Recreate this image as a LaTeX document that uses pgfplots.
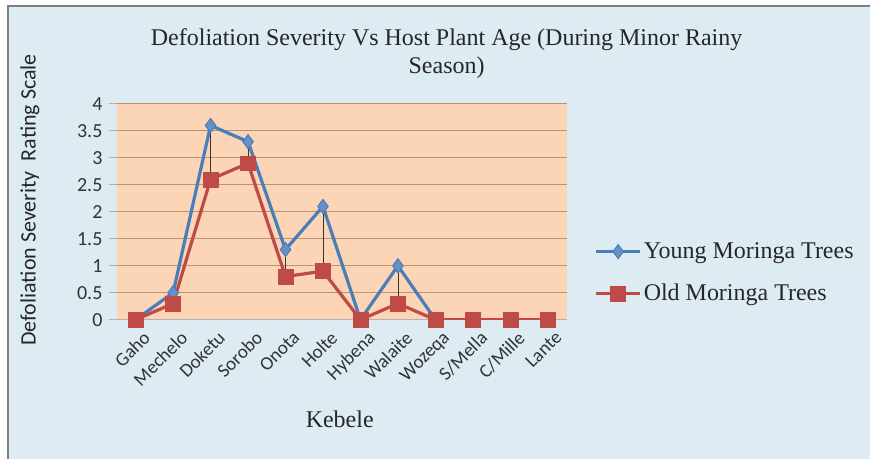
\documentclass[border=0pt]{standalone}
\usepackage{pgfplots}
\pgfplotsset{compat=1.18}
\usepackage{fontspec}
\setmainfont{Liberation Serif}
\newfontfamily\calfont{Carlito}
\definecolor{bgblue}{RGB}{221,236,242}
\definecolor{plotbg}{RGB}{251,213,181}
\definecolor{gridc}{RGB}{185,148,115}
\definecolor{ybl}{RGB}{74,126,187}
\definecolor{ored}{RGB}{190,75,72}
\begin{document}
\begin{tikzpicture}[x=1bp,y=1bp]
\fill[white] (0,0) rectangle (871,459);
\fill[bgblue] (8,0) rectangle (871,453);
\draw[gray, line width=1.5bp] (8,0) -- (8,453) -- (871,453);
\node[align=center, font=\fontsize{24bp}{28bp}\selectfont, text=black!85] at (447,405)
  {Defoliation Severity Vs Host Plant Age (During Minor Rainy\\Season)};
\node[rotate=90, font=\calfont\fontsize{22bp}{22bp}\selectfont, text=black!85] at (30,259)
  {Defoliation Severity\ \ Rating Scale};
\node[font=\fontsize{24bp}{24bp}\selectfont, text=black!85] at (340,39) {Kebele};
\begin{axis}[
  at={(117bp,139bp)}, anchor=south west,
  scale only axis, width=450bp, height=216bp,
  xmin=-0.5, xmax=11.5, ymin=0, ymax=4,
  ytick={0,0.5,1,1.5,2,2.5,3,3.5,4},
  xtick={0,...,11},
  xticklabels={Gaho,Mechelo,Doketu,Sorobo,Onota,Holte,Hybena,Walaite,Wozeqa,S/Mella,C/Mille,Lante},
  axis background/.style={fill=plotbg},
  ymajorgrids, grid style={gridc, line width=0.8bp},
  axis x line*=bottom, axis y line*=left,
  x axis line style={gray!60, line width=1bp, -},
  y axis line style={draw=none},
  xtick style={draw=none},
  ytick style={gray!60, line width=1bp},
  tick align=outside, major tick length=8bp,
  /pgf/number format/assume math mode=true,
  yticklabel style={font=\calfont\fontsize{20bp}{20bp}\selectfont, text=black!80, xshift=-3bp},
  xticklabel style={font=\calfont\fontsize{19bp}{19bp}\selectfont, text=black!80, rotate=45, anchor=north east, inner sep=1bp, yshift=-5bp, xshift=4bp},
  legend style={at={(1.062,0.218)}, anchor=west, draw=none, fill=none,
    font=\fontsize{24bp}{24bp}\selectfont, row sep=20bp, text=black!85, inner sep=0pt},
  legend cell align=left,
  legend image code/.code={\draw[mark repeat=2,mark phase=2,#1] plot coordinates {(0bp,0bp) (22bp,0bp) (44bp,0bp)};},
]
\addplot[forget plot, draw=none, mark=none, error bars/.cd, y dir=plus, y explicit,
  error bar style={black!80, line width=0.7bp}, error mark=none]
  coordinates {(1,0.3) +- (0,0.2) (2,2.6) +- (0,1.0) (3,2.9) +- (0,0.4) (4,0.8) +- (0,0.5) (5,0.9) +- (0,1.2) (7,0.3) +- (0,0.7)};
\addplot[ybl, line width=3.2bp, mark=diamond*, mark size=7bp, mark options={fill=ybl!85!white, draw=ybl, line width=1bp}]
  coordinates {(0,0) (1,0.5) (2,3.6) (3,3.3) (4,1.3) (5,2.1) (6,0) (7,1.0) (8,0) (9,0) (10,0) (11,0)};
\addlegendentry{Young Moringa Trees}
\addplot[ored, line width=3.2bp, mark=square*, mark size=7.5bp, mark options={fill=ored, draw=ored, line width=0.5bp}]
  coordinates {(0,0) (1,0.3) (2,2.6) (3,2.9) (4,0.8) (5,0.9) (6,0) (7,0.3) (8,0) (9,0) (10,0) (11,0)};
\addlegendentry{Old Moringa Trees}
\end{axis}
\end{tikzpicture}
\end{document}
